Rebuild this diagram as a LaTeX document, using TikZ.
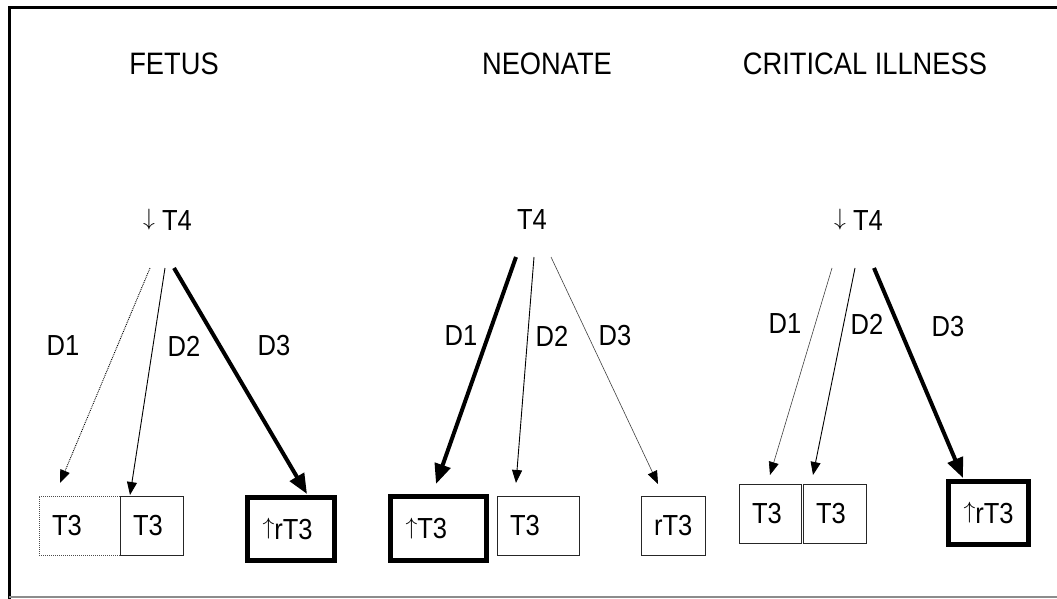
\documentclass[tikz,border=0pt]{standalone}
\usepackage{fontspec}
\usepackage{graphicx}
\setmainfont{Liberation Sans}[FakeStretch=0.88]
\usetikzlibrary{arrows.meta}
% thin arrows as tall as the capitals, standing on the baseline
\newcommand{\dnarr}{\raisebox{\depth}{\resizebox*{!}{21pt}{\ensuremath{\downarrow}}}}
\newcommand{\uparr}{\raisebox{\depth}{\resizebox*{!}{21pt}{\ensuremath{\uparrow}}}}
\begin{document}
\begin{tikzpicture}[x=1pt,y=-1pt,
  title/.style={font=\fontsize{31}{34}\selectfont, inner sep=0pt},
  txt/.style={font=\fontsize{29}{32}\selectfont, inner sep=0pt},
  tbox/.style={draw=black!85, line width=1pt, font=\fontsize{29}{32}\selectfont,
    rectangle, align=left, inner xsep=13pt, inner ysep=0pt},
  heavybox/.style={tbox, draw=black, line width=5pt, inner xsep=15pt},
  dotbox/.style={tbox, densely dotted, draw=black!70},
  thinarr/.style={line width=0.9pt, -{Triangle[length=13pt,width=10pt]}},
  faintarr/.style={line width=0.6pt, draw=black!75, -{Triangle[length=13pt,width=10pt,color=black]}},
  dotarr/.style={line width=0.9pt, densely dotted, -{Triangle[length=13pt,width=10pt]}},
  heavyarr/.style={line width=4pt, -{Triangle[length=20pt,width=16pt]}}
]
\useasboundingbox (0,0) rectangle (1057,599);

% frame
\draw[line width=3pt, line cap=rect] (9.3,597) -- (9.3,7.3) -- (1057,7.3);
\draw[line width=1.5pt, black!45] (9.3,597) -- (1057,597);

% ---------- FETUS ----------
\node[title] (ftitle) at (174,64) {FETUS};
\node[txt] (ft4) at (167.5,220) {\dnarr\hspace{7pt}T4};
\node[dotbox, text width=55pt, minimum height=59pt] (fa) at (79.5,525.5) {T3};
\node[tbox, text width=37pt, minimum height=59pt] (fb) at (151.5,525.5) {T3};
\node[heavybox, text width=57pt, minimum height=63pt] (fc) at (291,529) {\uparr rT3};
\coordinate (fs1) at (150,268);
\coordinate (fs2) at (165,268);
\coordinate (fs3) at (174,268);
\coordinate (fe1) at (60,483);
\coordinate (fe2) at (130,495);
\coordinate (fe3) at (307,494);
\draw[dotarr] (fs1) -- (fe1);
\draw[thinarr] (fs2) -- (fe2);
\draw[heavyarr] (fs3) -- (fe3);
\node[txt] (fd1) at (63,346) {D1};
\node[txt] (fd2) at (184,346) {D2};
\node[txt] (fd3) at (274,346) {D3};

% ---------- NEONATE ----------
\node[title] (ntitle) at (547,64) {NEONATE};
\node[txt] (nt4) at (532,220) {T4};
\node[heavybox, text width=66pt, minimum height=64pt] (na) at (438.5,528.5) {\uparr T3};
\node[tbox, text width=56pt, minimum height=59pt] (nb) at (538,525.5) {T3};
\node[tbox, text width=38pt, minimum height=59pt] (nc) at (673,525.5) {rT3};
\coordinate (ns1) at (516,257);
\coordinate (ns2) at (534,257);
\coordinate (ns3) at (551,257);
\coordinate (ne1) at (436,484);
\coordinate (ne2) at (516,483);
\coordinate (ne3) at (658,484);
\draw[heavyarr] (ns1) -- (ne1);
\draw[thinarr] (ns2) -- (ne2);
\draw[faintarr] (ns3) -- (ne3);
\node[txt] (nd1) at (461,336) {D1};
\node[txt] (nd2) at (552,336) {D2};
\node[txt] (nd3) at (615,336) {D3};

% ---------- CRITICAL ILLNESS ----------
\node[title] (ctitle) at (865,64) {CRITICAL ILLNESS};
\node[txt] (ct4) at (858.5,220) {\dnarr\hspace{7pt}T4};
\node[tbox, text width=36pt, minimum height=59pt] (ca) at (770,513.5) {T3};
\node[tbox, text width=37pt, minimum height=59pt] (cb) at (834.5,513.5) {T3};
\node[heavybox, text width=50pt, minimum height=63pt] (cc) at (988.5,513) {\uparr rT3};
\coordinate (cs1) at (832,268);
\coordinate (cs2) at (855,268);
\coordinate (cs3) at (874,268);
\coordinate (ce1) at (770,475);
\coordinate (ce2) at (813,475);
\coordinate (ce3) at (963,478);
\draw[faintarr] (cs1) -- (ce1);
\draw[thinarr] (cs2) -- (ce2);
\draw[heavyarr] (cs3) -- (ce3);
\node[txt] (cd1) at (785,324) {D1};
\node[txt] (cd2) at (867,324) {D2};
\node[txt] (cd3) at (948,327) {D3};
\end{tikzpicture}
\end{document}
